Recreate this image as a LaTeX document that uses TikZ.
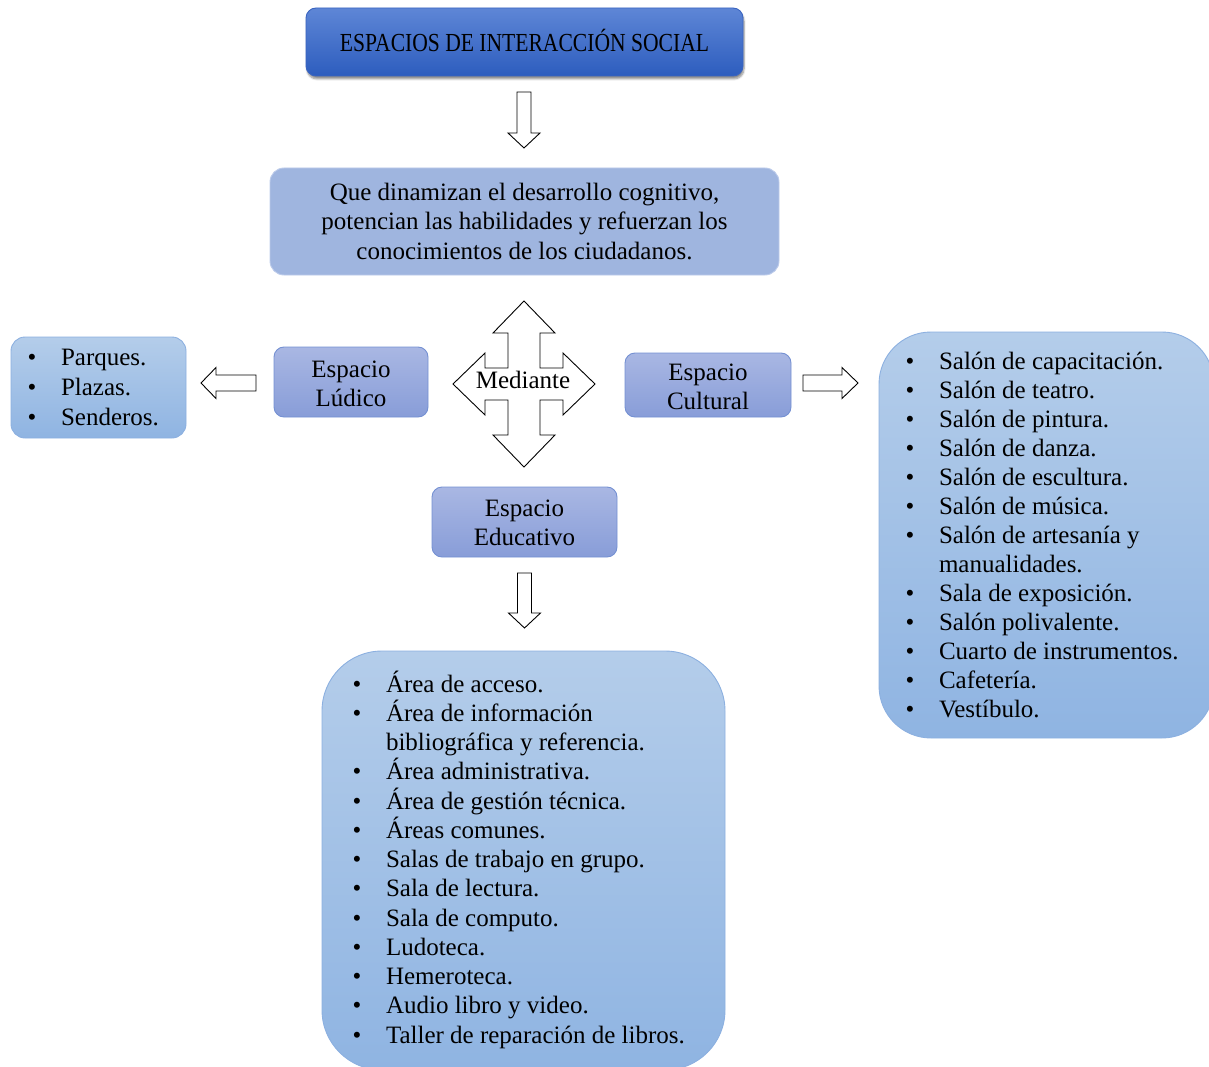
\documentclass[tikz,border=0pt]{standalone}
\usepackage{fontspec}
\setmainfont{Liberation Serif}
\newfontfamily\titlefont[FakeStretch=0.83]{Liberation Serif}
\usetikzlibrary{shadows.blur,calc}
\definecolor{titletop}{HTML}{5E86D6}
\definecolor{titlebot}{HTML}{2D5DBE}
\definecolor{titleborder}{HTML}{3A64C0}
\definecolor{midfill}{HTML}{9FB5DF}
\definecolor{midborder}{HTML}{BCCBEA}
\definecolor{esptop}{HTML}{A9B7E3}
\definecolor{espbot}{HTML}{889DD8}
\definecolor{espborder}{HTML}{7490D2}
\definecolor{listtop}{HTML}{B4CDEA}
\definecolor{listbot}{HTML}{8FB4E2}
\definecolor{listborder}{HTML}{8CB0E0}
\newcommand\mkbox[6]{\node[#6, minimum width={(#4-#2)*1pt}, minimum height={(#5-#3)*1pt}] (#1) at ({(#2+#4)/2},{(#3+#5)/2}) {};}
\newcommand\downblock[4]{\draw[blockarrow] (#1-7,#2) -- (#1+7,#2) -- (#1+7,#3) -- (#1+16,#3) -- (#1,#4) -- (#1-16,#3) -- (#1-7,#3) -- cycle;}
\begin{document}
\begin{tikzpicture}[x=1pt,y=-1pt,
  boxbase/.style={rectangle, inner sep=0pt, outer sep=0pt, line width=0.9pt},
  titlebox/.style={boxbase, rounded corners=10pt, draw=titleborder, top color=titletop, bottom color=titlebot,
     blur shadow={shadow xshift=1pt, shadow yshift=-3pt, shadow blur steps=6, shadow opacity=45}},
  midbox/.style={boxbase, rounded corners=14pt, draw=midborder, fill=midfill},
  espbox/.style={boxbase, rounded corners=10pt, draw=espborder, top color=esptop, bottom color=espbot},
  listbox/.style={boxbase, draw=listborder, top color=listtop, bottom color=listbot},
  txt/.style={inner sep=0pt, outer sep=0pt, font=\fontsize{25}{29}\selectfont},
  blockarrow/.style={draw=black, fill=white, line width=0.9pt, line join=miter}]
\useasboundingbox (0,0) rectangle (1209,1067);

% boxes
\mkbox{title}{306}{8}{743}{76}{titlebox}
\mkbox{mid}{270}{168}{779}{275}{midbox}
\mkbox{ludico}{274}{347}{428}{417}{espbox}
\mkbox{cultural}{625}{353}{791}{417}{espbox}
\mkbox{educativo}{432}{487}{617}{557}{espbox}
\mkbox{leftlist}{11}{337}{186}{438}{listbox, rounded corners=14pt}
\mkbox{rightlist}{879}{332}{1214}{738}{listbox, rounded corners=52pt}
\mkbox{bottomlist}{322}{651}{725}{1070}{listbox, rounded corners=60pt}

% texts in boxes
\node[txt, anchor=base, font=\fontsize{26}{29}\titlefont] (ttitle) at (524.5,52) {ESPACIOS DE INTERACCIÓN SOCIAL};
\node[txt, anchor=base] (m1) at (524.5,201) {Que dinamizan el desarrollo cognitivo,};
\node[txt, anchor=base] (m2) at (524.5,230) {potencian las habilidades y refuerzan los};
\node[txt, anchor=base] (m3) at (524.5,259) {conocimientos de los ciudadanos.};
\node[txt, anchor=base] (l1) at (351,377) {Espacio};
\node[txt, anchor=base] (l2) at (351,406) {Lúdico};
\node[txt, anchor=base] (c1) at (708,380) {Espacio};
\node[txt, anchor=base] (c2) at (708,409) {Cultural};
\node[txt, anchor=base] (e1) at (524.5,516) {Espacio};
\node[txt, anchor=base] (e2) at (524.5,545) {Educativo};

% block arrows
\downblock{524}{92}{133}{148}
\downblock{524.5}{573}{613}{628}
\draw[blockarrow] (256,375) -- (256,391) -- (216,391) -- (216,398.5) -- (201,383) -- (216,367.5) -- (216,375) -- cycle;
\draw[blockarrow] (803,375) -- (803,391) -- (842,391) -- (842,398.5) -- (858,383) -- (842,367.5) -- (842,375) -- cycle;

% quad arrow
\begin{scope}[shift={(524,384)}]
\draw[blockarrow] (-71,0) -- (-39,-31) -- (-39,-16) -- (-16,-16) -- (-16,-51) -- (-31,-51) -- (0,-83)
  -- (31,-51) -- (16,-51) -- (16,-16) -- (39,-16) -- (39,-31) -- (71,0) -- (39,31) -- (39,16)
  -- (16,16) -- (16,51) -- (31,51) -- (0,83) -- (-31,51) -- (-16,51) -- (-16,16) -- (-39,16)
  -- (-39,31) -- cycle;
\end{scope}
\node[txt, anchor=base] (mediante) at (523,388) {Mediante};

% left list
\foreach \t [count=\i] in {Parques., Plazas., Senderos.}{
  \node[txt, anchor=base] (lb\i) at (32,{365+30*(\i-1)}) {\textbullet};
  \node[txt, anchor=base west] (lt\i) at (61,{365+30*(\i-1)}) {\t};
}

% right list
\foreach \t/\b [count=\i] in {Salón de capacitación./1, Salón de teatro./1, Salón de pintura./1,
  Salón de danza./1, Salón de escultura./1, Salón de música./1, Salón de artesanía y/1,
  manualidades./0, Sala de exposición./1, Salón polivalente./1, Cuarto de instrumentos./1,
  Cafetería./1, Vestíbulo./1}{
  \ifnum\b=1 \node[txt, anchor=base] (rb\i) at (910,{369+29.08*(\i-1)}) {\textbullet};\fi
  \node[txt, anchor=base west] (rt\i) at (939,{369+29.08*(\i-1)}) {\t};
}

% bottom list
\foreach \t/\b [count=\i] in {Área de acceso./1, Área de información/1, bibliográfica y referencia./0,
  Área administrativa./1, Área de gestión técnica./1, Áreas comunes./1, Salas de trabajo en grupo./1,
  Sala de lectura./1, Sala de computo./1, Ludoteca./1, Hemeroteca./1, Audio libro y video./1,
  Taller de reparación de libros./1}{
  \ifnum\b=1 \node[txt, anchor=base] (bb\i) at (357,{692+29.25*(\i-1)}) {\textbullet};\fi
  \node[txt, anchor=base west] (bt\i) at (386,{692+29.25*(\i-1)}) {\t};
}
\end{tikzpicture}
\end{document}
